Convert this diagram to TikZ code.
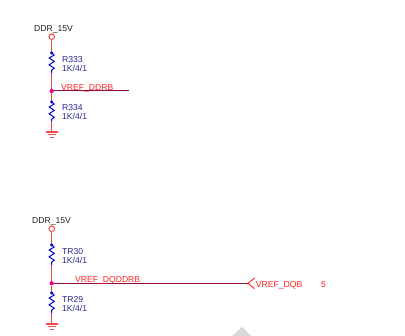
\documentclass[tikz,border=0pt]{standalone}
\usepackage{fontspec}
\setmainfont{Liberation Sans}
\definecolor{wirered}{HTML}{EE4A4A}
\definecolor{netdark}{HTML}{900C3C}
\definecolor{refblue}{HTML}{28288C}
\definecolor{labred}{HTML}{FF2020}
\definecolor{pwrgray}{HTML}{202020}
\definecolor{wm}{HTML}{D9D9D9}
\tikzset{
  txt/.style={inner sep=0pt,anchor=west,text height=6.2pt,text depth=1.8pt,font=\fontsize{8.6pt}{9pt}\selectfont},
  pwr/.style={txt,text=pwrgray},
  refd/.style={txt,text=refblue},
  netl/.style={txt,text=labred},
  wire/.style={draw=wirered,line width=1.3pt},
  net/.style={draw=netdark,line width=1pt},
  rbody/.style={draw=blue!85!black,line width=1pt,line join=miter},
  gndl/.style={draw=wirered,line width=1.1pt},
  port/.style={circle,draw=wirered,fill=white,line width=1pt,minimum size=5.6pt,inner sep=0pt},
  pin/.style={circle,fill=blue!85!black,minimum size=3.4pt,inner sep=0pt},
  junc/.style={circle,fill=magenta,minimum size=4.4pt,inner sep=0pt}
}
\newcommand{\zigres}[2]{%
  \draw[rbody] (#1) -- ++(2.5,2) -- ++(-5,3) -- ++(5,3.4) -- ++(-5,3.4) -- ++(5,3.4) -- ++(-2.5,2) -- (#2);}
\newcommand{\gndsym}[1]{%
  \draw[gndl] ([xshift=-6pt]#1) -- ([xshift=6pt]#1);
  \draw[gndl] ([xshift=-4pt,yshift=-2.6pt]#1) -- ([xshift=4pt,yshift=-2.6pt]#1);
  \draw[gndl] ([xshift=-2pt,yshift=-5.2pt]#1) -- ([xshift=2pt,yshift=-5.2pt]#1);}
\begin{document}
\begin{tikzpicture}[x=1pt,y=-1pt]
\useasboundingbox (0,0) rectangle (405,336);
\fill[wm] (242,327) -- (251,336) -- (232,336) -- cycle;
% top circuit
\node[port] (p1) at (51.7,36.7) {};
\coordinate (r1a) at (51.7,53);
\coordinate (r1b) at (51.7,73);
\node[junc] (j1) at (51.7,91) {};
\coordinate (r2a) at (51.7,102);
\coordinate (r2b) at (51.7,121.5);
\coordinate (g1) at (51.7,132);
\coordinate (n1) at (129,91);
\draw[wire] (p1) -- (r1a);
\draw[wire] (r1b) -- (j1);
\draw[wire] (j1) -- (r2a);
\draw[wire] (r2b) -- (g1);
\draw[net] (j1) -- (n1);
\zigres{r1a}{r1b}
\zigres{r2a}{r2b}
\node[pin] at (r1a) {};
\node[pin] at (r2a) {};
\gndsym{g1}
\node[pwr] at (34,29.5) {DDR\_15V};
\node[refd] at (62,60.3) {R333};
\node[refd] at (62,69.3) {1K/4/1};
\node[netl] at (61,88) {VREF\_DDRB};
\node[refd] at (62,108.3) {R334};
\node[refd] at (62,117.3) {1K/4/1};
% bottom circuit
\node[port] (p2) at (51.7,228.7) {};
\coordinate (r3a) at (51.7,245);
\coordinate (r3b) at (51.7,265);
\node[junc] (j2) at (51.7,283.3) {};
\coordinate (r4a) at (51.7,293);
\coordinate (r4b) at (51.7,313);
\coordinate (g2) at (51.7,324);
\coordinate (n2) at (248,283.3);
\coordinate (c2a) at (254.5,278);
\coordinate (c2b) at (254.5,288.6);
\draw[wire] (p2) -- (r3a);
\draw[wire] (r3b) -- (j2);
\draw[wire] (j2) -- (r4a);
\draw[wire] (r4b) -- (g2);
\draw[net] (j2) -- (n2);
\draw[draw=labred,line width=0.9pt] (c2a) -- (n2) -- (c2b);
\zigres{r3a}{r3b}
\zigres{r4a}{r4b}
\node[pin] at (r3a) {};
\node[pin] at (r4a) {};
\gndsym{g2}
\node[pwr] at (32,221.5) {DDR\_15V};
\node[refd] at (62,252.5) {TR30};
\node[refd] at (62,261.5) {1K/4/1};
\node[netl] at (75,280) {VREF\_DQDDRB};
\node[refd] at (62,300.7) {TR29};
\node[refd] at (62,309.3) {1K/4/1};
\node[netl] at (255.7,285.5) {VREF\_DQB};
\node[netl] at (321,285.5) {5};
\end{tikzpicture}
\end{document}
